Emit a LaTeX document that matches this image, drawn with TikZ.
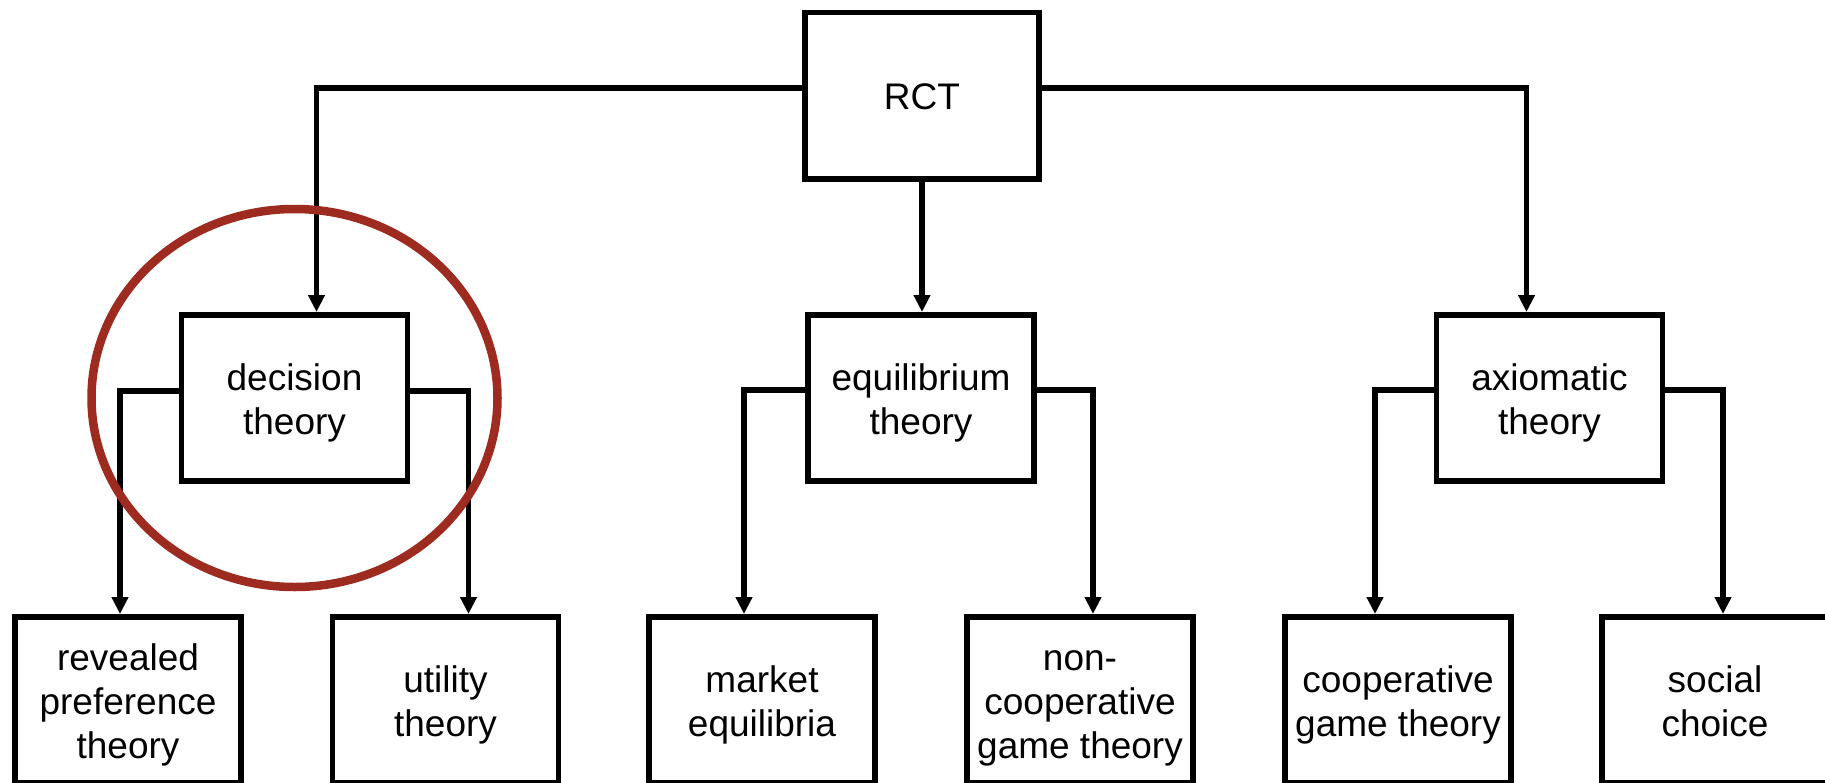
\documentclass[tikz,border=0pt]{standalone}
\usepackage{fontspec}
\setmainfont{Liberation Sans}
\usepackage{tikz}
\usetikzlibrary{arrows.meta,positioning,calc}
\usepackage{xcolor}
\definecolor{circred}{RGB}{158,43,31}
\newcommand{\boxstrut}{\rule[-4pt]{0pt}{22pt}}
\newcommand{\boxlabel}[1]{\boxstrut#1\boxstrut}

\begin{document}
\begin{tikzpicture}[x=0.5pt, y=-0.5pt,
    box/.style={draw, line width=2.8pt, minimum width=113pt, minimum height=83.2pt,
      inner sep=0pt, align=center, font=\fontsize{18.5}{22}\selectfont},
    link/.style={line width=2.6pt, -{Triangle[width=8pt,length=8.5pt]}}]
  \useasboundingbox (0,0) rectangle (1825,782);
  \clip (0,0) rectangle (1825,782);

  % Top and middle row
  \node[box, minimum width=117.2pt] (rct) at (922,95.5) {\boxlabel{RCT}};
  \node[box] (dec) at (294.5,398) {\boxlabel{decision\\theory}};
  \node[box] (equ) at (921,398) {\boxlabel{equilibrium\\theory}};
  \node[box] (axi) at (1549.5,398) {\boxlabel{axiomatic\\theory}};

  % Bottom row (runs off the page)
  \node[box] (rev) at (128,700) {\boxlabel{revealed\\preference\\theory}};
  \node[box] (uti) at (445.5,700) {\boxlabel{utility\\theory}};
  \node[box] (mkt) at (762,700) {\boxlabel{market\\equilibria}};
  \node[box] (nco) at (1080,700) {\boxlabel{non-\\cooperative\\game theory}};
  \node[box] (coo) at (1398,700) {\boxlabel{cooperative\\game theory}};
  \node[box] (soc) at (1715,700) {\boxlabel{social\\choice}};

  % Connectors
  \draw[link] ($(rct.west)+(0,-7.5)$) -| ($(dec.north)+(22,0)$);
  \draw[link] (rct.south) -- (rct.south |- equ.north);
  \draw[link] ($(rct.east)+(0,-7.5)$) -| ($(axi.north)+(-23,0)$);

  \draw[link] ($(dec.west)+(0,-7)$) -| ($(rev.north)+(-8,0)$);
  \draw[link] ($(dec.east)+(0,-7)$) -| ($(uti.north)+(23,0)$);
  \draw[link] ($(equ.west)+(0,-8)$) -| ($(mkt.north)+(-18,0)$);
  \draw[link] ($(equ.east)+(0,-8)$) -| ($(nco.north)+(13,0)$);
  \draw[link] ($(axi.west)+(0,-8)$) -| ($(coo.north)+(-23,0)$);
  \draw[link] ($(axi.east)+(0,-8)$) -| ($(soc.north)+(8,0)$);

  % Highlight
  \draw[circred, line width=4.25pt] (dec.center) ellipse [x radius=203, y radius=189];
\end{tikzpicture}
\end{document}
